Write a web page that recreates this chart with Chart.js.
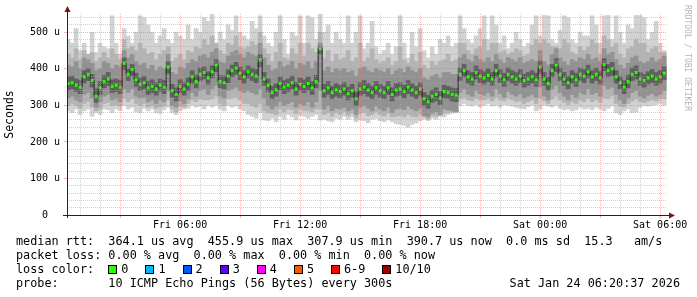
<!DOCTYPE html>
<html>
<head>
<meta charset="utf-8">
<script src="https://cdn.jsdelivr.net/npm/chart.js@4"></script>
<style>
  html, body { margin: 0; padding: 0; background: #fff; }
  #wrap { position: relative; width: 697px; height: 297px; overflow: hidden; background: #fff; }
  #c { position: absolute; left: 0; top: 0; }
  .txt { position: absolute; font-family: 'DejaVu Sans Mono', monospace; font-size: 11.8px; line-height: 14px; white-space: pre; color: #000; }
  .lc { display: flex; align-items: center; }
  .box { display: inline-block; width: 7px; height: 7px; border: 1px solid #000; margin-right: 4px; }
  .lab { margin-right: 17px; }
  #rrd { position: absolute; left: 683px; top: 5px; font-family: 'DejaVu Sans Mono', monospace; font-size: 8px; color: #b4b4b4; writing-mode: vertical-rl; white-space: pre; }
</style>
</head>
<body>
<div id="wrap">
  <canvas id="c" width="697" height="297"></canvas>
  <div id="rrd">RRDTOOL / TOBI OETIKER</div>
  <div class="txt" style="left:16px; top:234px;">median rtt:  364.1 us avg  455.9 us max  307.9 us min  390.7 us now  0.0 ms sd  15.3   am/s</div>
  <div class="txt" style="left:16px; top:248px;">packet loss: 0.00 % avg  0.00 % max  0.00 % min  0.00 % now</div>
  <div class="txt lc" id="losscolor" style="left:16px; top:262px;"><span>loss color:  </span></div>
  <div class="txt" style="left:16px; top:276px;">probe:       10 ICMP Echo Pings (56 Bytes) every 300s</div>
  <div class="txt" style="right:17px; top:276px;">Sat Jan 24 06:20:37 2026</div>
</div>
<script>
// ---- data (microseconds), samples every 12 minutes starting Fri 00:24 ----
const startHour = 0.4;     // hours since Fri 00:00
const stepHour = 0.2;

const med = [
  360,362,355,350,378,385,368,325,348,365,
  372,352,355,350,415,385,398,370,358,362,
  348,352,345,355,350,405,340,330,352,345,
  358,378,365,385,390,375,392,410,365,362,
  380,395,402,388,378,392,385,380,425,372,
  355,335,342,360,350,355,362,345,358,352,
  360,348,365,455,340,348,335,342,338,345,
  332,340,318,345,350,342,335,348,340,335,
  348,330,342,345,338,350,342,335,345,318,
  310,325,330,320,338,335,330,328,385,395,
  378,372,390,380,375,382,372,395,380,370,
  385,378,372,380,368,372,378,370,405,372,
  360,395,410,385,372,362,378,370,385,380,
  392,378,385,375,412,395,400,378,362,350,
  365,385,390,372,368,375,380,372,378,388
];
// outermost smoke (fastest / slowest ping)
const outerHi = [
  480,470,510,450,470,440,500,445,470,460,
  455,545,470,440,510,490,470,500,545,540,
  520,500,470,490,510,480,470,500,490,480,
  520,480,510,500,540,530,550,470,500,480,
  520,505,545,500,490,480,530,510,545,490,
  470,460,500,545,480,440,500,490,545,470,
  545,540,480,550,500,520,470,500,480,470,
  545,470,500,545,455,470,530,460,440,450,
  470,440,460,545,470,430,500,460,510,450,
  430,460,440,480,470,490,460,470,545,510,
  480,470,490,510,545,480,545,520,470,490,
  455,470,500,480,460,470,520,545,490,546,
  545,480,470,505,545,540,480,470,500,490,
  490,545,520,470,545,546,480,545,500,470,
  520,510,546,546,540,480,500,530,470,450
];
const outerLo = [
  285,280,290,275,285,290,270,280,275,290,
  288,280,290,285,300,290,295,282,280,292,
  285,290,280,278,288,295,280,275,285,290,
  292,300,295,298,290,300,295,300,290,285,
  300,295,298,290,285,275,270,265,280,260,
  258,265,255,270,262,275,268,260,272,270,
  265,270,275,260,262,258,255,265,262,270,
  262,268,255,260,258,252,262,265,258,255,
  260,255,250,248,245,240,248,252,258,262,
  258,265,262,270,268,275,278,280,300,305,
  300,298,302,295,300,305,298,300,295,302,
  300,298,295,292,290,296,300,285,290,300,
  298,295,300,292,288,290,285,288,295,290,
  292,288,295,290,285,292,298,280,275,285,
  290,280,282,295,300,298,300,302,305,300
];
// second smoke layer
const l2Hi = [
  440,430,455,425,450,440,445,420,430,445,
  430,455,440,425,480,455,460,450,470,455,
  440,445,425,440,450,460,420,430,440,425,
  450,445,460,455,480,465,490,470,450,440,
  470,465,490,460,455,460,475,465,500,455,
  440,420,445,470,430,425,455,440,470,435,
  470,455,445,500,430,450,420,440,425,430,
  450,420,430,470,420,430,455,425,415,420,
  430,410,420,460,425,415,440,420,445,410,
  400,420,410,420,425,440,420,425,470,470,
  450,440,455,460,480,450,470,470,445,450,
  440,445,455,450,435,440,465,480,470,480,
  470,460,460,455,480,470,445,440,460,450,
  460,480,470,440,490,480,460,470,440,430,
  455,460,480,470,470,445,455,460,445,445
];
const l2Lo = [
  300,305,300,292,305,310,295,285,290,305,
  308,300,302,298,320,310,318,305,300,305,
  295,300,292,295,298,315,290,282,298,295,
  305,315,310,318,315,315,318,325,305,300,
  318,320,322,315,305,305,300,295,305,285,
  280,278,275,290,282,290,288,278,290,285,
  285,282,290,290,275,280,270,280,275,282,
  272,278,265,278,280,272,275,282,275,270,
  278,268,270,272,268,275,270,268,275,268,
  262,272,270,272,278,280,282,282,318,322,
  315,312,320,315,315,320,312,322,315,312,
  320,315,310,312,305,310,315,305,320,312,
  305,318,325,315,308,302,310,305,315,310,
  320,310,315,308,320,318,325,305,298,295,
  305,312,318,310,308,312,315,312,318,318
];
// third smoke layer
const midHi = [
  410,405,420,400,430,425,415,395,400,420,
  415,400,410,405,450,430,440,420,410,415,
  400,410,395,405,400,440,390,385,405,400,
  415,425,420,435,440,430,445,455,420,415,
  435,445,450,440,430,445,440,435,470,430,
  410,395,400,420,405,410,420,400,415,410,
  420,400,420,470,395,405,390,400,395,400,
  390,395,380,400,405,395,390,400,395,390,
  400,385,395,400,390,405,395,390,400,375,
  370,380,385,375,390,390,385,385,430,440,
  425,420,435,425,420,430,420,440,425,415,
  430,425,420,430,415,420,425,420,450,420,
  410,440,455,430,420,410,425,420,430,425,
  440,425,430,420,455,440,445,425,410,400,
  415,430,435,420,415,420,430,420,425,435
];
const midLo = [
  320,325,315,310,330,335,320,295,310,325,
  330,315,318,310,345,335,345,325,320,322,
  310,315,305,315,310,340,300,295,312,305,
  318,335,325,340,345,330,345,355,325,320,
  340,345,350,340,335,340,335,330,345,320,
  300,290,298,310,300,305,310,295,305,300,
  310,295,310,340,290,300,285,292,290,295,
  285,290,275,295,300,292,285,298,290,285,
  295,280,290,292,288,298,290,285,292,272,
  268,278,282,275,290,288,285,282,335,345,
  330,325,340,332,328,335,325,345,332,322,
  338,330,325,332,320,325,330,322,350,325,
  315,345,355,335,325,315,330,322,335,330,
  345,330,335,325,355,345,350,330,315,305,
  320,335,340,325,320,328,332,325,330,340
];
// innermost smoke layer
const innerHi = [
  378,380,372,368,395,400,385,345,365,382,
  390,370,372,368,430,400,412,388,375,380,
  365,370,362,372,368,420,358,348,370,362,
  375,395,382,402,405,392,408,425,382,380,
  398,410,418,405,395,408,402,398,440,390,
  372,352,360,378,368,372,380,362,375,370,
  378,365,382,462,358,365,352,360,355,362,
  350,358,335,362,368,360,352,365,358,352,
  365,348,360,362,355,368,360,352,362,335,
  328,342,348,338,355,352,348,346,402,412,
  395,390,408,398,392,400,390,412,398,388,
  402,395,390,398,385,390,395,388,422,390,
  378,412,428,402,390,380,395,388,402,398,
  410,395,402,392,428,412,418,395,380,368,
  382,402,408,390,385,392,398,390,395,405
];
const innerLo = [
  342,345,338,332,360,368,350,308,330,348,
  355,335,338,332,398,368,380,352,340,345,
  330,335,328,338,332,388,322,312,335,328,
  340,360,348,368,372,358,375,392,348,345,
  362,378,385,370,360,375,368,362,405,355,
  338,318,325,342,332,338,345,328,340,335,
  342,330,348,440,322,330,318,325,320,328,
  315,322,300,328,332,325,318,330,322,318,
  330,312,325,328,320,332,325,318,328,300,
  292,308,312,302,320,318,312,310,368,378,
  360,355,372,362,358,365,355,378,362,352,
  368,360,355,362,350,355,360,352,388,355,
  342,378,392,368,355,345,360,352,368,362,
  375,360,368,358,395,378,382,360,345,332,
  348,368,372,355,350,358,362,355,360,370
];

// axis ticks
const xTickHours = [6, 12, 18, 24, 30];
const xTickLabels = ['Fri 06:00', 'Fri 12:00', 'Fri 18:00', 'Sat 00:00', 'Sat 06:00'];
const yTickValues = [0, 100, 200, 300, 400, 500];
const yTickLabels = ['0  ', '100 u', '200 u', '300 u', '400 u', '500 u'];

// legend
const lossLabels = ['0', '1', '2', '3', '4', '5', '6-9', '10/10'];
const lossColors = ['#26ff00', '#00b8ff', '#0059ff', '#5e00ff', '#ff00ff', '#ff5500', '#ff0000', '#a10000'];

// ---- build ----
const lc = document.getElementById('losscolor');
lossLabels.forEach((l, i) => {
  const b = document.createElement('span'); b.className = 'box'; b.style.background = lossColors[i];
  const t = document.createElement('span'); t.className = 'lab'; t.textContent = l;
  lc.appendChild(b); lc.appendChild(t);
});

const timeStart = 0.34361, timeEnd = 30.34361; // Fri 00:20:37 .. Sat 06:20:37
const hours = med.map((_, i) => startHour + i * stepHour);
const band = (lo, hi) => hours.map((t, i) => ({ x: t, y: [lo[i], hi[i]] }));
const pts = arr => hours.map((t, i) => ({ x: t, y: arr[i] }));

const gridHours = []; for (let h = 1; h <= 30; h++) gridHours.push(h);
const gridY = []; for (let v = 0; v <= 540; v += 20) gridY.push(v);

const MINOR = 'rgba(170,170,170,0.55)';
const MAJOR = 'rgba(225,110,110,0.5)';

const axisPlugin = {
  id: 'axes',
  afterDraw(chart) {
    const { ctx, chartArea: a } = chart;
    ctx.save();
    ctx.strokeStyle = '#222';
    ctx.lineWidth = 1;
    ctx.beginPath();
    ctx.moveTo(a.left - 4, Math.round(a.bottom) + 0.5);
    ctx.lineTo(a.right + 2, Math.round(a.bottom) + 0.5);
    ctx.moveTo(Math.round(a.left) + 0.5, a.bottom + 3);
    ctx.lineTo(Math.round(a.left) + 0.5, a.top - 4);
    ctx.stroke();
    ctx.fillStyle = '#7f1010';
    const lx = Math.round(a.left) + 0.5, ty = a.top - 8;
    ctx.beginPath();
    ctx.moveTo(lx, ty); ctx.lineTo(lx - 3, ty + 6); ctx.lineTo(lx + 3, ty + 6); ctx.closePath(); ctx.fill();
    const by = Math.round(a.bottom) + 0.5, rx = a.right + 8;
    ctx.beginPath();
    ctx.moveTo(rx, by); ctx.lineTo(rx - 6, by - 3); ctx.lineTo(rx - 6, by + 3); ctx.closePath(); ctx.fill();
    ctx.restore();
  }
};

const barOpts = { type: 'bar', borderWidth: 0, barPercentage: 1, categoryPercentage: 1, grouped: false };

new Chart(document.getElementById('c'), {
  type: 'bar',
  data: {
    datasets: [
      Object.assign({ data: band(outerLo, outerHi), backgroundColor: '#d2d2d2', order: 7 }, barOpts),
      Object.assign({ data: band(l2Lo, l2Hi), backgroundColor: '#b4b4b4', order: 6 }, barOpts),
      Object.assign({ data: band(midLo, midHi), backgroundColor: '#929292', order: 5 }, barOpts),
      Object.assign({ data: band(innerLo, innerHi), backgroundColor: '#606060', order: 4 }, barOpts),
      { type: 'line', data: pts(med), borderColor: '#2a2a2a', borderWidth: 1, stepped: 'middle', pointRadius: 0, order: 2 },
      { type: 'line', data: pts(med), showLine: false, pointStyle: 'rect', pointRadius: 2.2, pointBorderWidth: 0, pointBackgroundColor: '#26ff00', order: 1 }
    ]
  },
  options: {
    responsive: false,
    animation: false,
    devicePixelRatio: 1,
    layout: { padding: { top: 14, right: 30, left: 0, bottom: 0 } },
    plugins: { legend: { display: false }, tooltip: { enabled: false } },
    scales: {
      x: {
        type: 'linear', min: timeStart, max: timeEnd, offset: false,
        afterBuildTicks: s => { s.ticks = gridHours.map(v => ({ value: v })); },
        afterFit: s => { s.height = 82; },
        grid: {
          offset: false,
          z: 1, lineWidth: 1, drawTicks: true, tickLength: 3,
          color: c => (c.tick && c.tick.value % 3 === 0) ? MAJOR : MINOR,
          tickColor: c => (c.tick && c.tick.value % 3 === 0) ? MAJOR : 'rgba(0,0,0,0)'
        },
        border: { display: false, dash: [1, 1] },
        ticks: {
          autoSkip: false, maxRotation: 0, minRotation: 0, padding: 1, color: '#000',
          font: { family: 'DejaVu Sans Mono', size: 10 },
          callback: v => { const k = xTickHours.indexOf(v); return k >= 0 ? xTickLabels[k] : ''; }
        }
      },
      y: {
        min: 0, max: 550,
        afterBuildTicks: s => { s.ticks = gridY.map(v => ({ value: v })); },
        afterFit: s => { s.width = 67; },
        grid: {
          z: 1, lineWidth: 1, drawTicks: true, tickLength: 3,
          color: c => (c.tick && c.tick.value % 100 === 0) ? MAJOR : MINOR,
          tickColor: c => (c.tick && c.tick.value % 100 === 0) ? MAJOR : 'rgba(0,0,0,0)'
        },
        border: { display: false, dash: [1, 1] },
        title: { display: true, text: 'Seconds', color: '#000', padding: { top: 3, bottom: 0 }, font: { family: 'DejaVu Sans Mono', size: 11.5 } },
        ticks: {
          autoSkip: false, padding: 4, color: '#000',
          font: { family: 'DejaVu Sans Mono', size: 10 },
          callback: v => { const k = yTickValues.indexOf(v); return k >= 0 ? yTickLabels[k] : ''; }
        }
      }
    }
  },
  plugins: [axisPlugin]
});
</script>
</body>
</html>
